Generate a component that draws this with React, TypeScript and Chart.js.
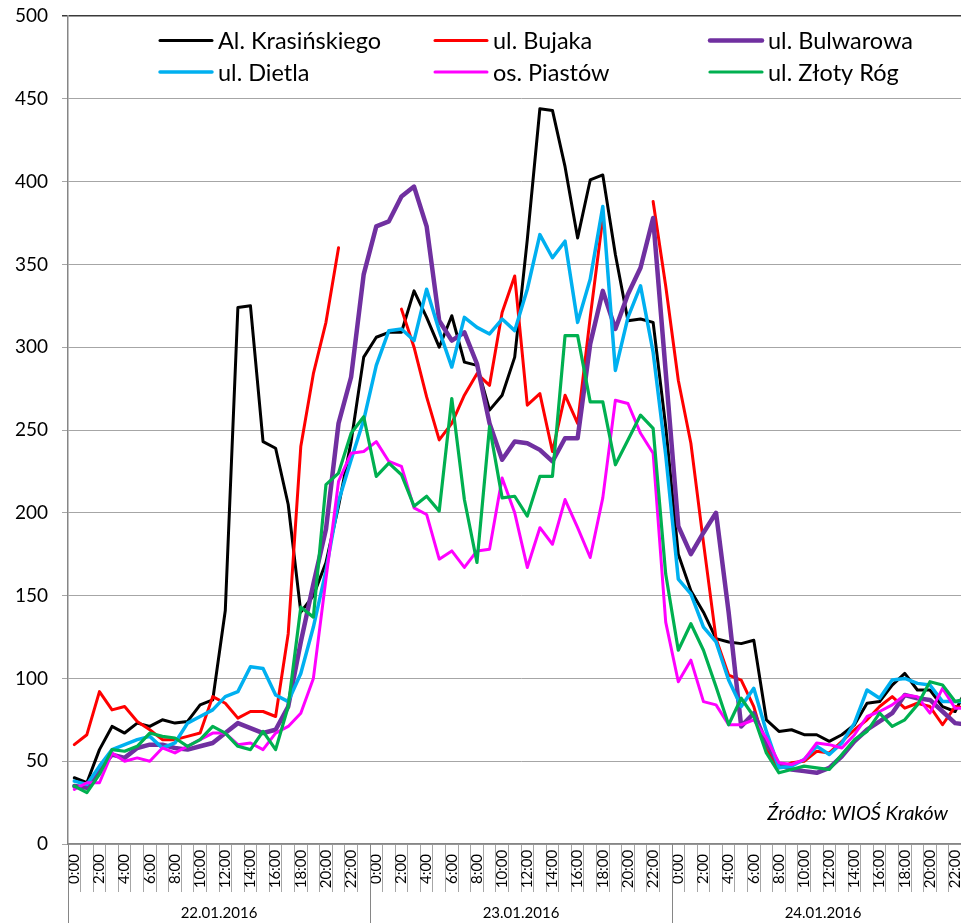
import React, { useEffect, useRef } from 'react';
import { Chart, registerables } from 'chart.js';

Chart.register(...registerables);

const days = ['22.01.2016', '23.01.2016', '24.01.2016'];
const hourLabels = ['0:00','1:00','2:00','3:00','4:00','5:00','6:00','7:00','8:00','9:00','10:00','11:00','12:00','13:00','14:00','15:00','16:00','17:00','18:00','19:00','20:00','21:00','22:00','23:00'];
const categories = days.flatMap((d) => hourLabels.map((h) => `${d} ${h}`));

const seriesNames = ['Al. Krasińskiego', 'ul. Bujaka', 'ul. Bulwarowa', 'ul. Dietla', 'os. Piastów', 'ul. Złoty Róg'];
const seriesColors = ['#000000', '#ff0000', '#7030a0', '#00b0f0', '#ff00ff', '#00b050'];
const seriesWidths = [3, 3, 4.5, 3.5, 3, 3.2];

const krasinskiego = [
  40,37,57,71,67,73,71,75,73,74,84,87,141,324,325,243,239,205,140,150,170,204,243,294,
  306,309,309,334,318,300,319,291,289,262,271,294,365,444,443,409,366,401,404,356,316,317,315,252,
  175,153,140,124,122,121,123,75,68,69,66,66,62,66,72,85,86,96,103,93,93,83,80,95,
];
const bujaka = [
  60,66,92,81,83,74,69,63,63,65,67,89,85,76,80,80,77,127,240,284,315,360,null,null,
  null,null,323,300,270,244,254,271,284,277,321,343,265,272,237,271,254,318,378,null,null,null,388,337,
  280,242,182,124,102,99,83,57,46,49,50,56,55,62,69,75,83,89,82,85,83,72,83,82,
];
const bulwarowa = [
  35,34,45,54,52,58,60,60,58,57,59,61,67,73,70,67,69,83,122,157,190,254,282,344,
  373,376,391,397,373,316,304,309,290,254,232,243,242,238,231,245,245,302,334,311,332,348,378,285,
  192,175,188,200,140,71,79,61,48,45,44,43,46,53,62,69,74,79,90,88,87,80,73,72,
];
const dietla = [
  38,36,47,57,60,63,65,58,61,73,77,81,89,92,107,106,90,86,103,131,165,207,232,256,
  289,310,311,304,335,310,288,318,312,308,317,310,335,368,354,364,315,341,385,286,318,337,297,235,
  160,151,131,122,99,83,94,68,46,47,51,59,54,61,73,93,88,99,100,97,96,86,86,86,
];
const piastow = [
  33,37,37,55,50,52,50,58,55,59,63,67,67,60,61,57,67,71,79,100,160,219,236,237,
  243,231,228,203,199,172,177,167,177,178,221,200,167,191,181,208,191,173,209,268,266,248,236,134,
  98,111,86,84,72,72,75,64,49,48,51,61,60,58,66,77,80,84,90,89,79,94,82,82,
];
const zlotyRog = [
  35,31,42,57,56,59,67,65,64,59,63,71,67,59,57,68,57,83,143,137,217,224,248,258,
  222,230,223,204,210,201,269,208,170,252,209,210,198,222,222,307,307,267,267,229,244,259,251,163,
  117,133,117,95,72,88,77,55,43,45,47,46,45,54,63,68,79,71,75,84,98,96,86,88,
];
const seriesValues = [krasinskiego, bujaka, bulwarowa, dietla, piastow, zlotyRog];

const yMin = 0;
const yMax = 500;
const yStep = 50;
const sourceText = 'Źródło: WIOŚ Kraków';

const FONT = 'Lato, "Liberation Sans", sans-serif';

const decorPlugin = {
  id: 'decor',
  afterDraw(chart: any) {
    const { ctx, chartArea } = chart;
    const x = chart.scales.x;
    const cell = x.getPixelForValue(1) - x.getPixelForValue(0);
    ctx.save();
    ctx.fillStyle = '#000';
    ctx.font = `15px ${FONT}`;
    ctx.textAlign = 'center';
    ctx.textBaseline = 'middle';
    categories.forEach((_, i) => {
      if (i % 2 !== 0) return;
      const px = x.getPixelForValue(i);
      ctx.save();
      ctx.translate(px, chartArea.bottom + 25);
      ctx.rotate(-Math.PI / 2);
      ctx.fillText(hourLabels[i % 24], 0, 0);
      ctx.restore();
    });
    ctx.strokeStyle = '#868686';
    ctx.lineWidth = 1;
    for (let d = 0; d <= days.length; d++) {
      const sx = Math.round(x.getPixelForValue(d * 24) - cell / 2) + 0.5;
      ctx.beginPath();
      ctx.moveTo(sx, chartArea.bottom);
      ctx.lineTo(sx, chart.height);
      ctx.stroke();
    }
    ctx.font = `15px ${FONT}`;
    days.forEach((d, k) => {
      const cx = (x.getPixelForValue(k * 24) + x.getPixelForValue(k * 24 + 23)) / 2;
      ctx.fillText(d, cx, chartArea.bottom + 69);
    });
    ctx.font = `italic 20px ${FONT}`;
    ctx.textAlign = 'right';
    ctx.textBaseline = 'alphabetic';
    ctx.fillText(sourceText, chartArea.left + 880, chartArea.bottom - 24);
    ctx.restore();
  },
  afterDatasetsDraw(chart: any) {
    const { ctx, chartArea } = chart;
    const colX = [92, 367, 642];
    const rowY = [24.5, 56];
    ctx.save();
    ctx.font = `23.5px ${FONT}`;
    ctx.textBaseline = 'middle';
    ctx.textAlign = 'left';
    seriesNames.forEach((name, i) => {
      const lx = chartArea.left + colX[i % 3];
      const ly = chartArea.top + rowY[Math.floor(i / 3)];
      ctx.strokeStyle = seriesColors[i];
      ctx.lineWidth = seriesWidths[i];
      ctx.lineCap = 'round';
      ctx.beginPath();
      ctx.moveTo(lx, ly);
      ctx.lineTo(lx + 52, ly);
      ctx.stroke();
      ctx.fillStyle = '#000';
      ctx.fillText(name, lx + 58, ly + 1);
    });
    ctx.restore();
  },
};

export default function App() {
  const canvasRef = useRef<HTMLCanvasElement | null>(null);

  useEffect(() => {
    if (!canvasRef.current) return;
    const chart = new Chart(canvasRef.current, {
      type: 'line',
      data: {
        labels: categories,
        datasets: seriesNames.map((name, i) => ({
          label: name,
          data: seriesValues[i],
          borderColor: seriesColors[i],
          backgroundColor: seriesColors[i],
          borderWidth: seriesWidths[i],
          pointRadius: 0,
          tension: 0,
          spanGaps: false,
          borderJoinStyle: 'round' as const,
          borderCapStyle: 'round' as const,
          order: seriesNames.length - i,
        })),
      },
      options: {
        responsive: false,
        animation: false,
        layout: { padding: { top: 16, right: 26, left: 0, bottom: 0 } },
        plugins: { legend: { display: false }, tooltip: { enabled: false } },
        scales: {
          x: {
            type: 'category',
            offset: true,
            grid: {
              offset: true,
              drawOnChartArea: false,
              drawTicks: true,
              tickLength: 48,
              color: '#a6a6a6',
              lineWidth: 1,
            },
            border: { color: '#868686', width: 1.5 },
            ticks: { display: false, autoSkip: false },
            afterFit: (s: any) => {
              s.height = 79;
              s.paddingLeft = 0;
              s.paddingRight = 0;
            },
          },
          y: {
            min: yMin,
            max: yMax,
            ticks: {
              stepSize: yStep,
              color: '#000',
              padding: 14,
              font: { family: FONT, size: 19 },
            },
            grid: {
              color: (c: any) => (c.tick && c.tick.value === yMax ? '#3a3a3a' : '#a6a6a6'),
              lineWidth: (c: any) => (c.tick && c.tick.value === yMax ? 1.5 : 1),
              tickLength: 6,
              drawTicks: true,
            },
            border: { color: '#868686', width: 1.5 },
            afterFit: (s: any) => {
              s.width = 68;
              s.paddingTop = 0;
              s.paddingBottom = 0;
            },
          },
        },
      },
      plugins: [decorPlugin],
    });
    return () => chart.destroy();
  }, []);

  return (
    <div style={{ position: 'fixed', left: 0, top: 0, width: 961, height: 923, overflow: 'hidden', background: '#fff' }}>
      <canvas ref={canvasRef} width={1000} height={923} style={{ display: 'block' }} />
    </div>
  );
}
